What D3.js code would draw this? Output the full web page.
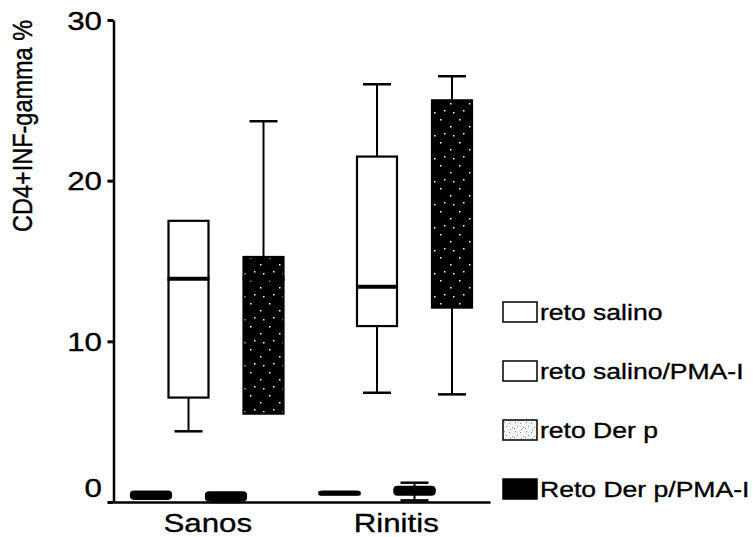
<!DOCTYPE html>
<html>
<head>
<meta charset="utf-8">
<script src="https://cdn.jsdelivr.net/npm/d3@7/dist/d3.min.js"></script>
<style>
  html, body { margin: 0; padding: 0; background: #fff; }
  svg { display: block; font-family: "Liberation Sans", Arial, sans-serif; }
  text { stroke: #000; stroke-width: 0.35px; }
</style>
</head>
<body>
<svg id="chart" width="753" height="537"></svg>
<script>
// ---- data ----
const categories = ["Sanos", "Rinitis"];
const seriesNames = ["reto salino", "reto salino/PMA-I", "reto Der p", "Reto Der p/PMA-I"];
// [series][category]
const whiskerMin = [[0.2, 0.45], [4.4, 6.8], [0.0, 0.1], [5.5, 6.7]];
const quartile1  = [[0.2, 0.45], [6.5, 10.95], [0.1, 0.45], [5.5, 12.1]];
const medians    = [[0.45, 0.55], [13.9, 13.4], [0.35, 0.7], [13.9, 13.55]];
const quartile3  = [[0.65, 0.65], [17.5, 21.5], [0.6, 0.95], [15.25, 25.0]];
const whiskerMax = [[0.65, 0.65], [17.5, 26.0], [0.6, 1.2], [23.7, 26.5]];
const yTicks = [0, 10, 20, 30];
const yLabel = "CD4+INF-gamma %";

// ---- setup ----
const svg = d3.select("#chart");
const SX = 1.18; // horizontal stretch of the scanned glyphs

const defs = svg.append("defs");
// light speckled pattern (reto Der p)
const pLight = defs.append("pattern").attr("id", "speckLight")
  .attr("patternUnits", "userSpaceOnUse").attr("width", 11).attr("height", 9);
pLight.append("rect").attr("width", 11).attr("height", 9).attr("fill", "#f4f4f4");
[[1,1],[6,2],[3,5],[9,6],[7,8],[0,7]].forEach(([a,b]) =>
  pLight.append("rect").attr("x", a).attr("y", b).attr("width", 1).attr("height", 1).attr("fill", "#8a8a8a"));
// dark speckled pattern (Reto Der p/PMA-I)
const pDark = defs.append("pattern").attr("id", "speckDark")
  .attr("patternUnits", "userSpaceOnUse").attr("width", 19).attr("height", 23);
pDark.append("rect").attr("width", 19).attr("height", 23).attr("fill", "#000");
[[3,4],[13,11],[7,18],[16,20]].forEach(([a,b]) =>
  pDark.append("rect").attr("x", a).attr("y", b).attr("width", 1.5).attr("height", 1.5).attr("fill", "#fff"));

const fills = ["#fff", "#fff", "url(#speckLight)", "url(#speckDark)"];

const y = d3.scaleLinear().domain([0, 30]).range([502, 20]);
const xGroup = d3.scalePoint().domain(categories).range([113, 490]).padding(0.5);
const xSeries = d3.scaleBand().domain(seriesNames).range([-75, 75]).padding(0);
const boxW = 40, capW = 28;

// ---- y axis ----
const yAxisG = svg.append("g").attr("transform", "translate(113.5,0)")
  .call(d3.axisLeft(y).tickValues(yTicks).tickSize(6).tickSizeOuter(0).tickFormat(d3.format("d")));
yAxisG.select(".domain").attr("stroke", "#000").attr("stroke-width", 2.5);
yAxisG.selectAll(".tick line").attr("stroke", "#000").attr("stroke-width", 3);
yAxisG.selectAll(".tick text")
  .attr("x", 0).attr("dy", "0.35em")
  .attr("font-size", 26.5).attr("fill", "#000")
  .attr("font-family", "Liberation Sans, Arial, sans-serif")
  .attr("transform", d => `translate(-11.5,${d === 0 ? -15 : 0}) scale(${SX},1)`);

// ---- x axis ----
const xAxisG = svg.append("g").attr("transform", "translate(0,502)")
  .call(d3.axisBottom(xGroup).tickSize(0).tickSizeOuter(0).tickPadding(11));
xAxisG.select(".domain").attr("stroke", "#000").attr("stroke-width", 2.5);
xAxisG.selectAll(".tick text")
  .attr("font-size", 26.5).attr("fill", "#000")
  .attr("font-family", "Liberation Sans, Arial, sans-serif")
  .attr("transform", `scale(${SX},1)`)
  .attr("x", 0);

// ---- y label ----
svg.append("text")
  .attr("transform", `translate(32,126) scale(${SX},1) rotate(-90)`)
  .attr("text-anchor", "middle")
  .attr("font-size", 23.5).attr("fill", "#000")
  .text(yLabel);

// ---- boxes ----
const boxData = [];
seriesNames.forEach((s, si) => {
  categories.forEach((c, ci) => {
    boxData.push({
      s, si, c,
      cx: xGroup(c) + xSeries(s) + xSeries.bandwidth() / 2,
      min: whiskerMin[si][ci], q1: quartile1[si][ci], med: medians[si][ci],
      q3: quartile3[si][ci], max: whiskerMax[si][ci]
    });
  });
});

const boxes = svg.append("g").selectAll("g.box").data(boxData).join("g").attr("class", "box");

// whiskers
boxes.each(function(d) {
  const g = d3.select(this);
  if (d.max > d.q3) {
    g.append("line").attr("x1", d.cx).attr("x2", d.cx).attr("y1", y(d.q3)).attr("y2", y(d.max))
      .attr("stroke", "#000").attr("stroke-width", 2);
    g.append("line").attr("x1", d.cx - capW / 2).attr("x2", d.cx + capW / 2)
      .attr("y1", y(d.max)).attr("y2", y(d.max)).attr("stroke", "#000").attr("stroke-width", 2.5);
  }
  if (d.min < d.q1) {
    g.append("line").attr("x1", d.cx).attr("x2", d.cx).attr("y1", y(d.q1)).attr("y2", y(d.min))
      .attr("stroke", "#000").attr("stroke-width", 2);
    g.append("line").attr("x1", d.cx - capW / 2).attr("x2", d.cx + capW / 2)
      .attr("y1", y(d.min)).attr("y2", y(d.min)).attr("stroke", "#000").attr("stroke-width", 2.5);
  }
});

// tiny boxes print as solid black in the scan
boxes.append("rect")
  .attr("x", d => d.cx - boxW / 2)
  .attr("y", d => y(d.q3))
  .attr("width", boxW)
  .attr("height", d => Math.max(1, y(d.q1) - y(d.q3)))
  .attr("rx", d => (y(d.q1) - y(d.q3)) < 12 ? 3 : 0)
  .attr("fill", d => (y(d.q1) - y(d.q3)) < 12 ? "#000" : fills[d.si])
  .attr("stroke", "#000").attr("stroke-width", 2.2);

boxes.append("line")
  .attr("x1", d => d.cx - boxW / 2 - 1).attr("x2", d => d.cx + boxW / 2 + 1)
  .attr("y1", d => y(d.med)).attr("y2", d => y(d.med))
  .attr("stroke", "#000").attr("stroke-width", 4);

// ---- legend ----
const legendY = d3.scalePoint().domain(seriesNames).range([312, 489]);
const leg = svg.append("g").selectAll("g").data(seriesNames).join("g")
  .attr("transform", d => `translate(503,${legendY(d)})`);
leg.append("rect").attr("x", 0).attr("y", -10).attr("width", 34).attr("height", 20)
  .attr("fill", (d, i) => i === 3 ? "#000" : fills[i]).attr("stroke", "#000").attr("stroke-width", 1.5);
leg.append("text")
  .attr("transform", `translate(37,8) scale(${SX},1)`)
  .attr("font-size", 22.5).attr("fill", "#000")
  .text(d => d);
</script>
</body>
</html>
